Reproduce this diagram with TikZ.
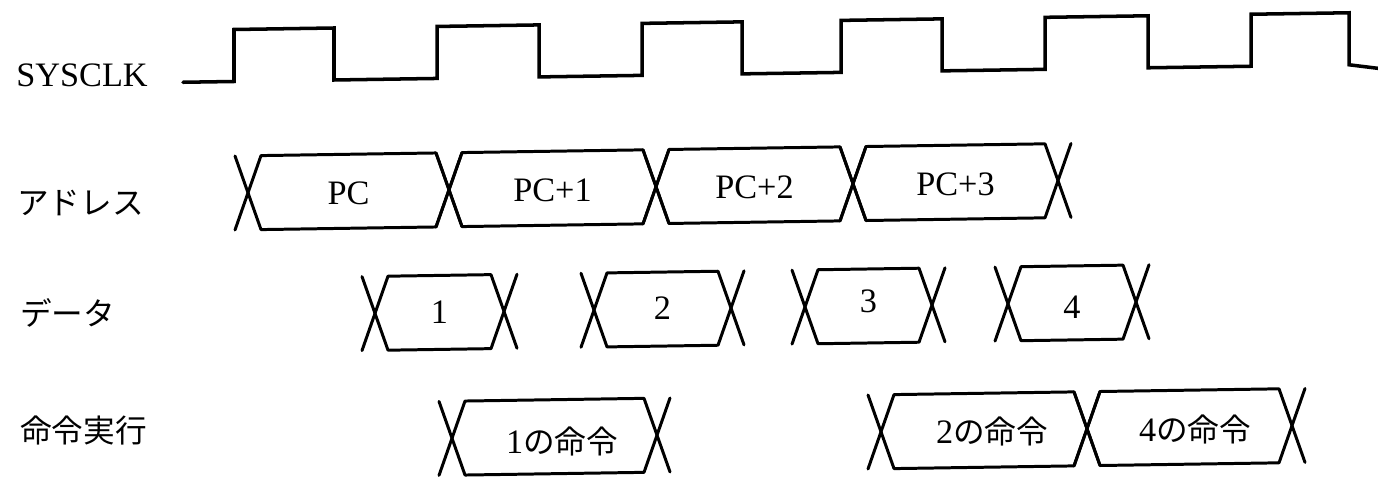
\documentclass[tikz,border=0pt]{standalone}
\usepackage{fontspec}
\setmainfont{Liberation Serif}
\newfontfamily\jpfont{Noto Sans CJK JP}
\newcommand\jp{\fontsize{18}{21}\selectfont\jpfont}

\tikzset{
  wave/.style={line width=2pt, line join=miter, line cap=round},
  bus/.style={line width=1.7pt, line join=round, line cap=round},
  rowlabel/.style={anchor=west, inner sep=0pt, font=\fontsize{19.5}{22}\selectfont},
  jplabel/.style={anchor=west, inner sep=0pt, font=\jp},
  value/.style={inner sep=0pt, font=\fontsize{19.5}{22}\selectfont},
}

% one bus value between transitions #1 and #2, row centre #3, with its two crossings
\newcommand\busseg[3]{%
  \draw[bus] (#1-13,#3-37) -- (#1+13,#3+37) -- (#2-13,#3+37) -- (#2+13,#3-37);
  \draw[bus] (#1-13,#3+37) -- (#1+13,#3-37) -- (#2-13,#3-37) -- (#2+13,#3+37);
}

\begin{document}
\begin{tikzpicture}[x=0.02cm, y=-0.02cm]
\useasboundingbox (0,0) rectangle (1378,477);

% signal names
\node[rowlabel] (lclk)  at (16,75)  {SYSCLK};
\node[jplabel]  (ladr)  at (17,203) {アドレス};
\node[jplabel]  (ldat)  at (20,313) {データ};
\node[jplabel]  (lexe)  at (20,430) {命令実行};

% waveforms, slightly sloped across the sheet
\begin{scope}[cm={1,0.015,0,1,(0,0)}]
  % system clock
  \draw[wave] (183,85) -- (234,85) -- (234,33) -- (334,33) -- (334,85)
    -- (437,85) -- (437,33) -- (539,33) -- (539,85)
    -- (642,85) -- (642,33) -- (742,33) -- (742,85)
    -- (841,85) -- (841,33) -- (942,33) -- (942,85)
    -- (1045,85) -- (1045,33) -- (1148,33) -- (1148,85)
    -- (1251,85) -- (1251,33) -- (1349,33) -- (1349,85) -- (1378,89);

  % address bus
  \busseg{248}{449}{196.5}
  \busseg{449}{656}{196.5}
  \busseg{656}{853}{196.5}
  \busseg{853}{1058}{196.5}
  \node[value] (a0) at (348.5,198.5) {PC};
  \node[value] (a1) at (552.5,198.5) {PC+1};
  \node[value] (a2) at (754.5,198.5) {PC+2};
  \node[value] (a3) at (955.5,198.5) {PC+3};

  % data bus
  \busseg{375}{504}{319}
  \busseg{594}{731}{319}
  \busseg{805}{932}{319}
  \busseg{1008}{1136}{319}
  \node[value] (d1) at (439.5,319) {1};
  \node[value] (d2) at (662.5,318) {2};
  \node[value] (d3) at (868.5,314) {3};
  \node[value] (d4) at (1072,323) {4};

  % instruction execution
  \busseg{452}{657}{445}
  \busseg{881}{1087}{445}
  \busseg{1087}{1292}{445}
  \node[value] (e1) at (562,450) {1\jp の命令};
  \node[value] (e2) at (992,446) {2\jp の命令};
  \node[value] (e4) at (1195,447) {4\jp の命令};
\end{scope}
\end{tikzpicture}
\end{document}
